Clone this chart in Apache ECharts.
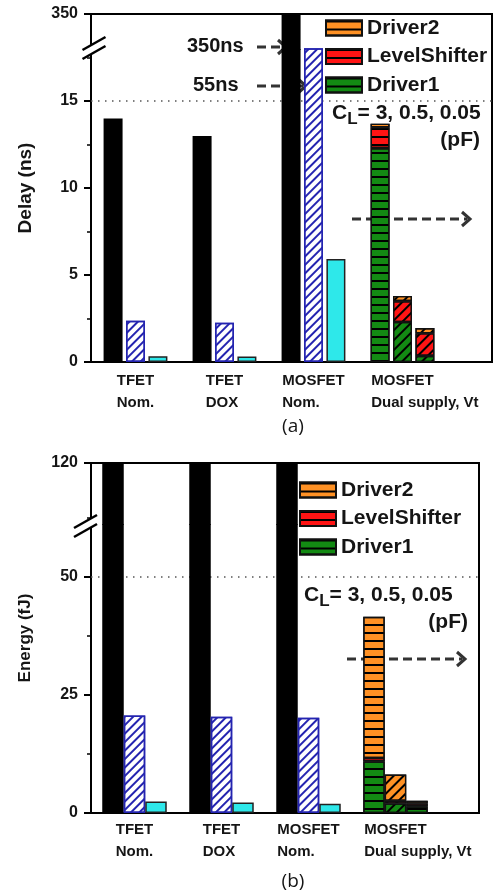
<!DOCTYPE html>
<html>
<head>
<meta charset="utf-8">
<script src="https://cdn.jsdelivr.net/npm/echarts@6/dist/echarts.min.js"></script>
<style>
  html, body { margin: 0; padding: 0; background: #fff; }
  #chart { width: 497px; height: 896px; }
</style>
</head>
<body>
<div id="chart"></div>
<script>
const FONT = '"Liberation Sans", Arial, Helvetica, sans-serif';
const INK = '#151515';

// x categories and loads
const devices = ['TFET\nNom.', 'TFET\nDOX', 'MOSFET\nNom.', 'MOSFET\nDual supply, Vt'];
const loadsPF = [3, 0.5, 0.05];
const partNames = ['Driver1', 'LevelShifter', 'Driver2'];
const legendNames = ['Driver2', 'LevelShifter', 'Driver1'];

// (a) delay in ns, TFET Nom. / TFET DOX / MOSFET Nom. for each load
const delay3pF = [14.0, 13.0, 350];
const delay05pF = [2.37, 2.26, 55];
const delay005pF = [0.33, 0.32, 5.92];
// dual supply MOSFET, loads 3 / 0.5 / 0.05 pF
const delayDriver1 = [12.3, 2.3, 0.35];
const delayLevelShifter = [1.2, 1.2, 1.3];
const delayDriver2 = [0.2, 0.3, 0.3];

// (b) energy in fJ
const energy3pF = [120, 120, 120];
const energy05pF = [20.6, 20.3, 20.1];
const energy005pF = [2.45, 2.2, 1.95];
const energyDriver1 = [10.9, 2.0, 1.4];
const energyLevelShifter = [0.7, 0.6, 0.6];
const energyDriver2 = [29.8, 5.5, 0.6];

// broken axis: linear part up to the break, then a squeezed top part
const delayStep = 5, delayBreak = 18, delayUpperMin = 50, delayAxisTop = 350, delayLimit = 15;
const energyStep = 25, energyBreak = 61, energyUpperMin = 61, energyAxisTop = 120, energyLimit = 50;

const grid = [], xAxis = [], yAxis = [], series = [], legend = [], graphic = [];

const hStripes = { symbol: 'rect', symbolSize: 1, symbolKeepAspect: false, color: '#000',
  dashArrayX: [1, 0], dashArrayY: [1.6, 5.1], rotation: 0 };
const dStripes = Object.assign({}, hStripes, { dashArrayY: [1.6, 4.2], rotation: -Math.PI / 4 });
const blueHatch = Object.assign({}, dStripes, { color: '#2424b0', dashArrayY: [1.6, 3.6] });

const loadStyles = [
  { color: '#000' },
  { color: '#fff', borderColor: '#2424b0', borderWidth: 1.5, decal: blueHatch },
  { color: '#2ee8ea', borderColor: '#222', borderWidth: 1.5 }
];
const partColors = { Driver1: '#138a13', LevelShifter: '#ff1414', Driver2: '#ff9124' };

function textEl(text, x, y, size, align, family, weight) {
  return { type: 'text', z: 100, silent: true, style: {
    text, x, y, align: align || 'left', verticalAlign: 'middle',
    fontSize: size, fontWeight: weight || 'bold', fontFamily: family || FONT, fill: INK } };
}

function dashedArrow(x1, x2, y) {
  return { type: 'group', z: 100, silent: true, children: [
    { type: 'line', shape: { x1: x1, y1: y, x2: x2 - 3, y2: y },
      style: { stroke: '#333', lineWidth: 3, lineDash: [9, 5] } },
    { type: 'polyline', shape: { points: [[x2 - 8, y - 7], [x2, y], [x2 - 8, y + 7]] },
      style: { stroke: '#333', lineWidth: 3, fill: null } }
  ] };
}

function breakMark(axisX, cx, cy) {
  const dx = 11.5, dy = 6.5, s = 9;
  const upper = x => cy - s / 2 - (x - cx) * dy / dx;
  const lower = x => cy + s / 2 - (x - cx) * dy / dx;
  const xa = axisX - 3, xb = axisX + 2;
  return { type: 'group', z: 100, silent: true, children: [
    { type: 'polygon', shape: { points: [[xa, upper(xa)], [xb, upper(xb)], [xb, lower(xb)], [xa, lower(xa)]] },
      style: { fill: '#fff', stroke: null } },
    { type: 'line', shape: { x1: cx - dx, y1: upper(cx - dx), x2: cx + dx, y2: upper(cx + dx) },
      style: { stroke: '#000', lineWidth: 2.5 } },
    { type: 'line', shape: { x1: cx - dx, y1: lower(cx - dx), x2: cx + dx, y2: lower(cx + dx) },
      style: { stroke: '#000', lineWidth: 2.5 } }
  ] };
}

function addPanel(p) {
  const ppu = p.frameH / p.frameMax;
  const bottom = p.top + p.frameH;
  const lowTop = Math.round(bottom - p.breakAt * ppu);
  const barsW = p.pitch * devices.length;
  const gf = grid.length;
  const base = { containLabel: false, outerBoundsMode: 'none' };

  grid.push(Object.assign({ left: p.left, top: p.top, width: p.frameW, height: p.frameH,
    show: true, borderColor: '#000', borderWidth: 2, backgroundColor: 'transparent' }, base));
  grid.push(Object.assign({ left: p.left, top: lowTop, width: barsW, height: bottom - lowTop }, base));
  // upper part overlaps the lower one by a pixel so the tall bars stay seamless
  grid.push(Object.assign({ left: p.left, top: p.top, width: barsW, height: lowTop - p.top + 1 }, base));

  // frame: ticks, labels and axis name
  xAxis.push({ gridIndex: gf, type: 'value', min: 0, max: 1, show: false });
  yAxis.push({
    gridIndex: gf, type: 'value', min: 0, max: p.frameMax, interval: p.step,
    name: p.title, nameLocation: 'middle', nameGap: p.nameGap,
    nameTextStyle: { fontSize: p.nameSize, fontWeight: 'bold', fontFamily: FONT, color: INK },
    axisLine: { show: false },
    axisTick: { show: true, length: 7, lineStyle: { color: '#000', width: 2 } },
    minorTick: { show: true, splitNumber: 2, length: 4, lineStyle: { color: '#000', width: 1.5 } },
    splitLine: { show: false }, minorSplitLine: { show: false },
    axisLabel: { margin: 13, fontSize: 16, fontWeight: 'bold', fontFamily: FONT, color: INK,
      formatter: v => (v >= p.frameMax ? String(p.axisTop) : String(v)) }
  });

  // lower (linear) part with the category labels
  xAxis.push({
    gridIndex: gf + 1, type: 'category', data: devices,
    axisLine: { show: false }, axisTick: { show: false },
    axisLabel: {
      interval: 0, margin: p.labelMargin, color: INK,
      formatter: v => { const t = v.split('\n'); return '{a|' + t[0] + '}\n{b|' + t[1] + '}'; },
      rich: {
        a: { fontSize: 15, fontWeight: 'bold', fontFamily: FONT, lineHeight: 22, align: 'left', color: INK },
        b: { fontSize: 15, fontWeight: 'bold', fontFamily: FONT, lineHeight: 22, align: 'left', color: INK, width: 1 }
      }
    }
  });
  yAxis.push({ gridIndex: gf + 1, type: 'value', min: 0, max: p.breakAt, show: false, splitLine: { show: false } });

  // upper part above the break
  xAxis.push({ gridIndex: gf + 2, type: 'category', data: devices, show: false });
  yAxis.push({ gridIndex: gf + 2, type: 'value', min: p.upperMin, max: p.axisTop, show: false, splitLine: { show: false } });

  const barOpt = { type: 'bar', barWidth: p.barWidth, barGap: p.barGap, animation: false };

  loadsPF.forEach((load, k) => {
    const stack = p.id + k;
    series.push(Object.assign({}, barOpt, {
      name: 'CL ' + load + ' pF', xAxisIndex: gf + 1, yAxisIndex: gf + 1, stack,
      data: p.byLoad[k].concat('-'), itemStyle: loadStyles[k]
    }));
    partNames.forEach(part => {
      series.push(Object.assign({}, barOpt, {
        name: part, xAxisIndex: gf + 1, yAxisIndex: gf + 1, stack,
        data: ['-', '-', '-', p.parts[part][k]],
        itemStyle: { color: partColors[part], borderColor: '#111', borderWidth: 1.3,
          decal: p.patterns[k] === 'h' ? hStripes : dStripes }
      }));
    });
  });
  loadsPF.forEach((load, k) => {
    series.push(Object.assign({}, barOpt, {
      name: 'CL ' + load + ' pF', xAxisIndex: gf + 2, yAxisIndex: gf + 2,
      data: p.byLoad[k].concat('-'), itemStyle: loadStyles[k]
    }));
  });

  // dotted reference line
  series.push({
    type: 'line', xAxisIndex: gf, yAxisIndex: gf, data: [], silent: true,
    markLine: { silent: true, symbol: ['none', 'none'], label: { show: false }, z: 1,
      lineStyle: { color: '#555', type: [1.5, 5.5], width: 1.5 },
      data: [{ yAxis: p.limit }] }
  });

  legend.push({
    left: p.legendLeft, top: p.legendTop, orient: 'vertical', padding: 0,
    itemWidth: 36, itemHeight: 15, itemGap: 7.5, icon: 'rect', selectedMode: false,
    textStyle: { fontSize: 21, fontWeight: 'bold', fontFamily: FONT, color: INK },
    data: legendNames
  });

  const clText = '{c|C}{s|L}{c|= ' + loadsPF.join(', ') + '}';
  graphic.push({ type: 'text', z: 100, silent: true, style: {
    text: clText, x: p.clX, y: p.clY, align: 'left', verticalAlign: 'middle',
    rich: {
      c: { fontSize: 21, fontWeight: 'bold', fontFamily: FONT, fill: INK, lineHeight: 24 },
      s: { fontSize: 17, fontWeight: 'bold', fontFamily: FONT, fill: INK, padding: [12, 0, 0, 0] }
    } } });
  graphic.push(textEl('(pF)', p.pfX, p.clY + 27, 21, 'right'));
  graphic.push(dashedArrow(p.arrow[0], p.arrow[1], p.arrow[2]));
  graphic.push(breakMark(p.left, p.breakMark[0], p.breakMark[1]));
  graphic.push(textEl(p.caption, 293, p.captionY, 19, 'center', '"Open Sans", "Noto Sans", sans-serif', 'normal'));
}

addPanel({
  id: 'a', left: 91, top: 14, frameW: 401, frameH: 348, frameMax: 20, step: delayStep,
  pitch: 89, breakAt: delayBreak, upperMin: delayUpperMin, axisTop: delayAxisTop, limit: delayLimit,
  title: 'Delay (ns)', nameSize: 19, nameGap: 56, labelMargin: 8,
  barWidth: 19, barGap: '18%',
  byLoad: [delay3pF, delay05pF, delay005pF],
  parts: { Driver1: delayDriver1, LevelShifter: delayLevelShifter, Driver2: delayDriver2 },
  patterns: ['h', 'd', 'd'],
  legendLeft: 325, legendTop: 17.5,
  clX: 332, clY: 113, pfX: 480,
  arrow: [352, 470, 219], breakMark: [94, 48],
  caption: '(a)', captionY: 427
});

addPanel({
  id: 'b', left: 91, top: 463, frameW: 388, frameH: 350, frameMax: 74, step: energyStep,
  pitch: 87, breakAt: energyBreak, upperMin: energyUpperMin, axisTop: energyAxisTop, limit: energyLimit,
  title: 'Energy (fJ)', nameSize: 17, nameGap: 57, labelMargin: 6,
  barWidth: 21.5, barGap: '0%',
  byLoad: [energy3pF, energy05pF, energy005pF],
  parts: { Driver1: energyDriver1, LevelShifter: energyLevelShifter, Driver2: energyDriver2 },
  patterns: ['h', 'd', 'h'],
  legendLeft: 299, legendTop: 479.5,
  clX: 304, clY: 595, pfX: 468,
  arrow: [347, 465, 659], breakMark: [85.5, 526],
  caption: '(b)', captionY: 882
});

// annotations for the off-scale MOSFET bars in (a)
graphic.push(textEl(delay3pF[2] + 'ns', 187, 46, 20));
graphic.push(dashedArrow(257, 286, 47));
graphic.push(textEl(delay05pF[2] + 'ns', 193, 85, 20));
graphic.push(dashedArrow(257, 306, 86));

const chart = echarts.init(document.getElementById('chart'));
chart.setOption({
  animation: false,
  backgroundColor: '#fff',
  grid, xAxis, yAxis, series, legend, graphic
});
</script>
</body>
</html>
